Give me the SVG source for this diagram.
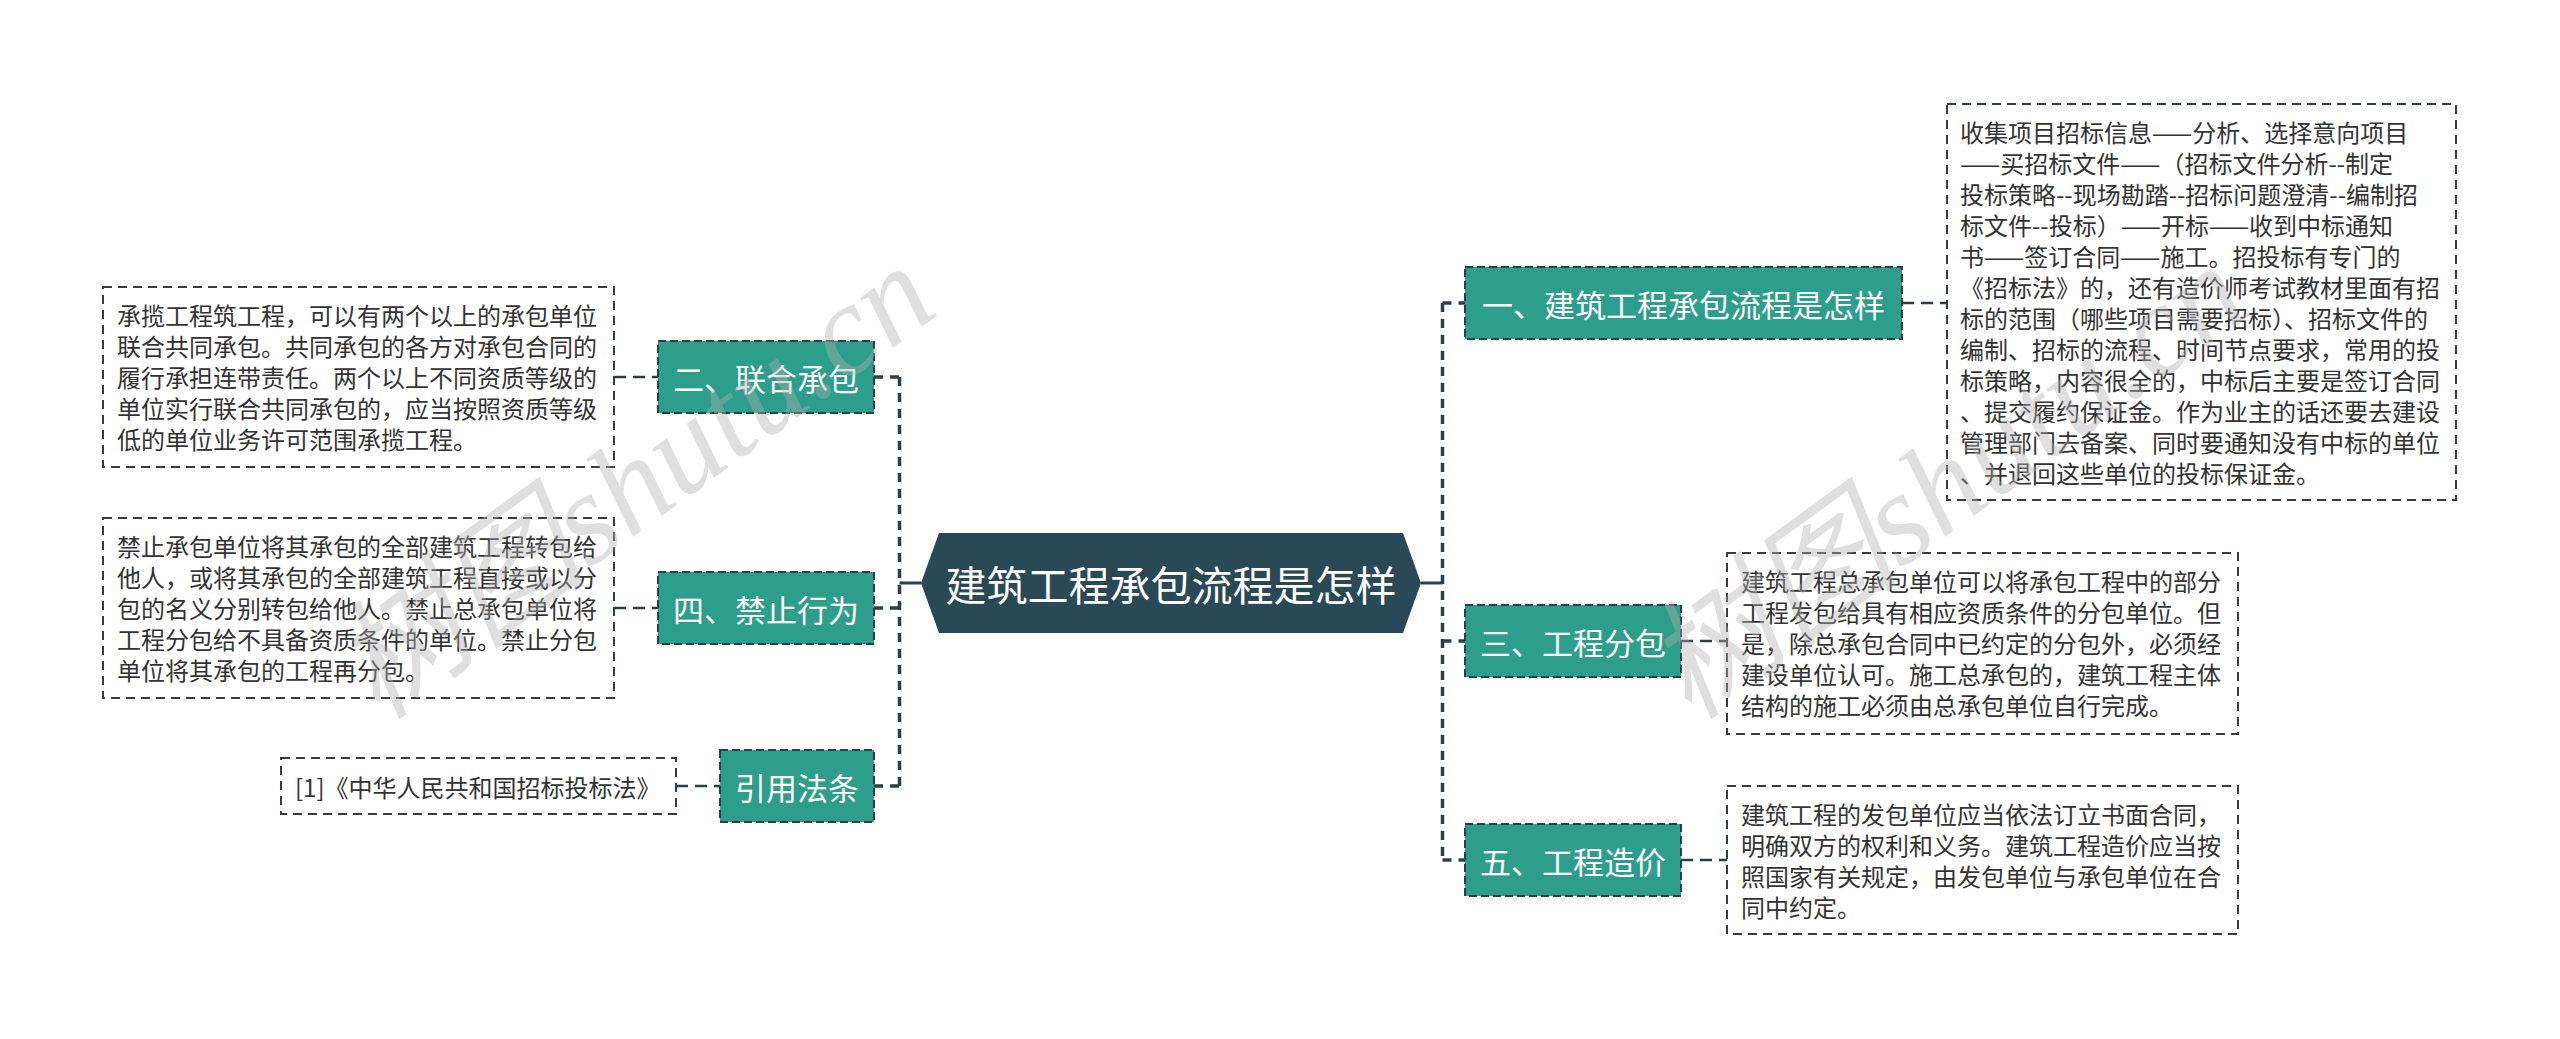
<svg xmlns="http://www.w3.org/2000/svg" width="2560" height="1039" viewBox="0 0 2560 1039">
<style>
.bg{fill:#ffffff}
.node rect{fill:#2e9e8c;stroke:#2b3f49;stroke-width:2;stroke-dasharray:8 4}
.node text{fill:#ffffff;font-family:"Noto Sans CJK SC","Noto Sans",sans-serif;font-size:31px;text-anchor:middle;dominant-baseline:central}
.center path{fill:#2a4957}
.center text{fill:#ffffff;font-family:"Noto Sans CJK SC","Noto Sans",sans-serif;font-size:41px;text-anchor:middle;dominant-baseline:central}
.detail rect{fill:#ffffff;stroke:#333d42;stroke-width:2;stroke-dasharray:9 6}
.detail text{fill:#333333;font-family:"Noto Sans CJK SC","Noto Sans",sans-serif;font-size:24px;dominant-baseline:central}
.spine{fill:none;stroke:#2b3f49;stroke-width:3.5;stroke-dasharray:9 7}
.solid{fill:none;stroke:#2b3f49;stroke-width:3}
.link{fill:none;stroke:#2b3f49;stroke-width:2.5;stroke-dasharray:12 7}
.wm{fill:#b0b0b0;fill-opacity:0.4;font-family:"Liberation Serif","Noto Sans CJK SC",serif;font-size:130px;font-style:italic}
</style>
<rect class="bg" x="0" y="0" width="2560" height="1039"/>

<g id="connectors">
  <path class="spine" d="M899.5,377 V786"/>
  <path class="spine" d="M874,377 H899.5 M874,608 H899.5 M874,786 H899.5"/>
  <path class="solid" d="M899.5,583 H921"/>
  <path class="spine" d="M1442.5,303 V860"/>
  <path class="solid" d="M1421,583 H1442.5"/>
  <path class="spine" d="M1442.5,303 H1465 M1442.5,641 H1465 M1442.5,860 H1465"/>
  <path class="link" d="M614,377 H658"/>
  <path class="link" d="M614,608 H658"/>
  <path class="link" d="M676,786 H720"/>
  <path class="link" d="M1902,303 H1947"/>
  <path class="link" d="M1681,641 H1727"/>
  <path class="link" d="M1681,860 H1727"/>
</g>

<g id="center" class="center">
  <path d="M921,583 L939,533 H1403 L1421,583 L1403,633 H939 Z"/>
  <text x="1171" y="583">建筑工程承包流程是怎样</text>
</g>

<g id="node-1" class="node">
  <rect x="1465" y="267" width="437" height="72"/>
  <text x="1683.5" y="303">一、建筑工程承包流程是怎样</text>
</g>
<g id="node-3" class="node">
  <rect x="1465" y="605" width="216" height="72"/>
  <text x="1573" y="641">三、工程分包</text>
</g>
<g id="node-5" class="node">
  <rect x="1465" y="824" width="216" height="72"/>
  <text x="1573" y="860">五、工程造价</text>
</g>
<g id="node-2" class="node">
  <rect x="658" y="341" width="216" height="72"/>
  <text x="766" y="377">二、联合承包</text>
</g>
<g id="node-4" class="node">
  <rect x="658" y="572" width="216" height="72"/>
  <text x="766" y="608">四、禁止行为</text>
</g>
<g id="node-ref" class="node">
  <rect x="720" y="750" width="154" height="72"/>
  <text x="797" y="786">引用法条</text>
</g>

<g id="detail-1" class="detail">
  <rect x="1947" y="104" width="509" height="396"/>
  <text x="1960" y="131.5">收集项目招标信息——分析、选择意向项目</text>
  <text x="1960" y="162.5">——买招标文件——（招标文件分析--制定</text>
  <text x="1960" y="193.5">投标策略--现场勘踏--招标问题澄清--编制招</text>
  <text x="1960" y="224.5">标文件--投标）——开标——收到中标通知</text>
  <text x="1960" y="255.5">书——签订合同——施工。招投标有专门的</text>
  <text x="1960" y="286.5">《招标法》的，还有造价师考试教材里面有招</text>
  <text x="1960" y="317.5">标的范围（哪些项目需要招标）、招标文件的</text>
  <text x="1960" y="348.5">编制、招标的流程、时间节点要求，常用的投</text>
  <text x="1960" y="379.5">标策略，内容很全的，中标后主要是签订合同</text>
  <text x="1960" y="410.5">、提交履约保证金。作为业主的话还要去建设</text>
  <text x="1960" y="441.5">管理部门去备案、同时要通知没有中标的单位</text>
  <text x="1960" y="472.5">、并退回这些单位的投标保证金。</text>
</g>
<g id="detail-3" class="detail">
  <rect x="1727" y="553" width="511" height="181"/>
  <text x="1741" y="580.5">建筑工程总承包单位可以将承包工程中的部分</text>
  <text x="1741" y="611.5">工程发包给具有相应资质条件的分包单位。但</text>
  <text x="1741" y="642.5">是，除总承包合同中已约定的分包外，必须经</text>
  <text x="1741" y="673.5">建设单位认可。施工总承包的，建筑工程主体</text>
  <text x="1741" y="704.5">结构的施工必须由总承包单位自行完成。</text>
</g>
<g id="detail-5" class="detail">
  <rect x="1727" y="786" width="511" height="148"/>
  <text x="1741" y="813.5">建筑工程的发包单位应当依法订立书面合同，</text>
  <text x="1741" y="844.5">明确双方的权利和义务。建筑工程造价应当按</text>
  <text x="1741" y="875.5">照国家有关规定，由发包单位与承包单位在合</text>
  <text x="1741" y="906.5">同中约定。</text>
</g>
<g id="detail-2" class="detail">
  <rect x="103" y="287" width="511" height="180"/>
  <text x="117" y="314.5">承揽工程筑工程，可以有两个以上的承包单位</text>
  <text x="117" y="345.5">联合共同承包。共同承包的各方对承包合同的</text>
  <text x="117" y="376.5">履行承担连带责任。两个以上不同资质等级的</text>
  <text x="117" y="407.5">单位实行联合共同承包的，应当按照资质等级</text>
  <text x="117" y="438.5">低的单位业务许可范围承揽工程。</text>
</g>
<g id="detail-4" class="detail">
  <rect x="103" y="518" width="511" height="180"/>
  <text x="117" y="545.5">禁止承包单位将其承包的全部建筑工程转包给</text>
  <text x="117" y="576.5">他人，或将其承包的全部建筑工程直接或以分</text>
  <text x="117" y="607.5">包的名义分别转包给他人。禁止总承包单位将</text>
  <text x="117" y="638.5">工程分包给不具备资质条件的单位。禁止分包</text>
  <text x="117" y="669.5">单位将其承包的工程再分包。</text>
</g>
<g id="detail-ref" class="detail">
  <rect x="281" y="758" width="395" height="56"/>
  <text x="295" y="786">[1]《中华人民共和国招标投标法》</text>
</g>

<g id="watermark">
  <text class="wm" transform="translate(378,722) rotate(-36)">树图shutu.cn</text>
  <text class="wm" transform="translate(1690,722) rotate(-36)">树图shutu.cn</text>
</g>
</svg>
